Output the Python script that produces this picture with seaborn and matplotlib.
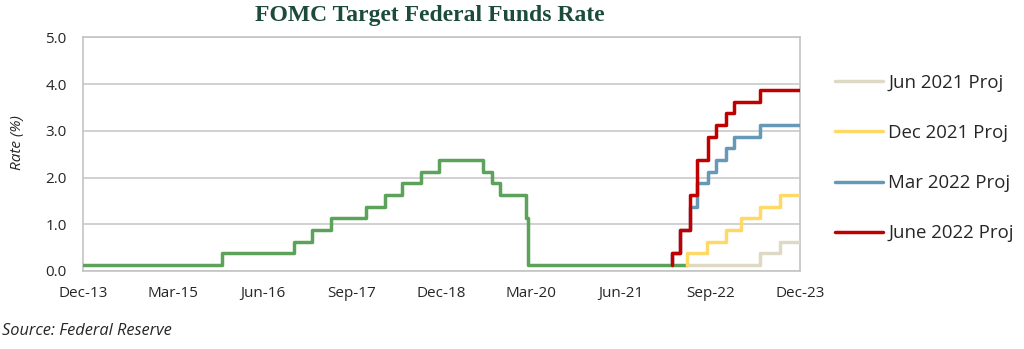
import matplotlib
matplotlib.use("Agg")
import matplotlib.pyplot as plt
import seaborn as sns
import pandas as pd

# ---- data (x in months since Dec-2013) ----
tick_pos = [0, 15, 30, 45, 60, 75, 90, 105, 120]
tick_labels = ["Dec-13", "Mar-15", "Jun-16", "Sep-17", "Dec-18", "Mar-20", "Jun-21", "Sep-22", "Dec-23"]

actual_x = [0, 23.3, 35.3, 38.3, 41.4, 47.3, 50.5, 53.4, 56.6, 59.6, 67.0, 68.4, 69.8, 74.1, 74.5, 101.1]
actual_y = [0.125, 0.375, 0.625, 0.875, 1.125, 1.375, 1.625, 1.875, 2.125, 2.375, 2.125, 1.875, 1.625, 1.125, 0.125, 0.125]

jun21_x = [101.1, 113.3, 116.6, 120]
jun21_y = [0.125, 0.375, 0.625, 0.625]

dec21_x = [101.1, 101.1, 104.5, 107.6, 110.1, 113.3, 116.6, 120]
dec21_y = [0.125, 0.375, 0.625, 0.875, 1.125, 1.375, 1.625, 1.625]

mar22_x = [98.5, 98.5, 99.9, 101.5, 102.8, 104.6, 106.0, 107.6, 109.0, 113.3, 120]
mar22_y = [0.125, 0.375, 0.875, 1.375, 1.875, 2.125, 2.375, 2.625, 2.875, 3.125, 3.125]

jun22_x = [98.5, 98.5, 99.9, 101.5, 102.8, 104.6, 106.0, 107.6, 109.0, 113.3, 120]
jun22_y = [0.125, 0.375, 0.875, 1.625, 2.375, 2.875, 3.125, 3.375, 3.625, 3.875, 3.875]

series_names = ["Jun 2021 Proj", "Dec 2021 Proj", "Mar 2022 Proj", "June 2022 Proj"]
colors = {"actual": "#5DA25A", "Jun 2021 Proj": "#DDD9C4", "Dec 2021 Proj": "#FFD966",
          "Mar 2022 Proj": "#6699B8", "June 2022 Proj": "#C00000"}

sns.set_theme(style="white")
plt.rcParams["font.family"] = ["Open Sans", "DejaVu Sans"]

fig = plt.figure(figsize=(10.24, 3.49), dpi=100)
ax = fig.add_axes([83.3 / 1024, (349 - 271) / 349, (800 - 83.3) / 1024, (271 - 37.3) / 349])

lw = 2.5
sns.lineplot(x=actual_x, y=actual_y, ax=ax, color=colors["actual"], lw=lw,
             drawstyle="steps-post", estimator=None, sort=False, zorder=3)
for name, xs, ys in [("Jun 2021 Proj", jun21_x, jun21_y), ("Dec 2021 Proj", dec21_x, dec21_y),
                     ("Mar 2022 Proj", mar22_x, mar22_y), ("June 2022 Proj", jun22_x, jun22_y)]:
    sns.lineplot(x=xs, y=ys, ax=ax, color=colors[name], lw=lw, label=name,
                 drawstyle="steps-post", estimator=None, sort=False, zorder=4)

ax.set_xlim(0, 120)
ax.set_ylim(0, 5)
ax.set_xticks(tick_pos)
ax.set_xticklabels(tick_labels)
ax.set_yticks([0, 1, 2, 3, 4, 5])
ax.set_yticklabels([f"{v:.1f}" for v in [0, 1, 2, 3, 4, 5]])
ax.tick_params(axis="both", length=0, labelsize=11, colors="#262626")
ax.tick_params(axis="y", pad=12)
ax.tick_params(axis="x", pad=11)
ax.grid(axis="y", color="#C9C9C9", lw=1.2)
ax.set_axisbelow(True)
for s in ax.spines.values():
    s.set_visible(True)
    s.set_color("#C4C4C4")
    s.set_linewidth(1.2)
ax.set_xlabel("")
ax.set_ylabel("")

fig.text(18 / 1024, 1 - 143 / 349, "Rate (%)", rotation=90, ha="center", va="center",
         fontsize=11, style="italic", color="#262626")
fig.text(2 / 1024, 1 - 331 / 349, "Source: Federal Reserve", ha="left", va="center",
         fontsize=11.8, style="italic", color="#262626")
fig.text(430 / 1024, 1 - 15.5 / 349, "FOMC Target Federal Funds Rate", ha="center", va="center",
         fontsize=17, fontweight="bold", family=["Liberation Serif", "DejaVu Serif"], color="#1C4B3B")

leg = ax.legend(loc="upper left", bbox_to_anchor=(835 / 1024, 1 - 74 / 349), bbox_transform=fig.transFigure,
                frameon=False, fontsize=13.4, handlelength=2.58, handletextpad=0.27, labelspacing=1.72,
                borderpad=0, borderaxespad=0)
for t in leg.get_texts():
    t.set_color("#262626")

fig.savefig("out.png", dpi=100)
